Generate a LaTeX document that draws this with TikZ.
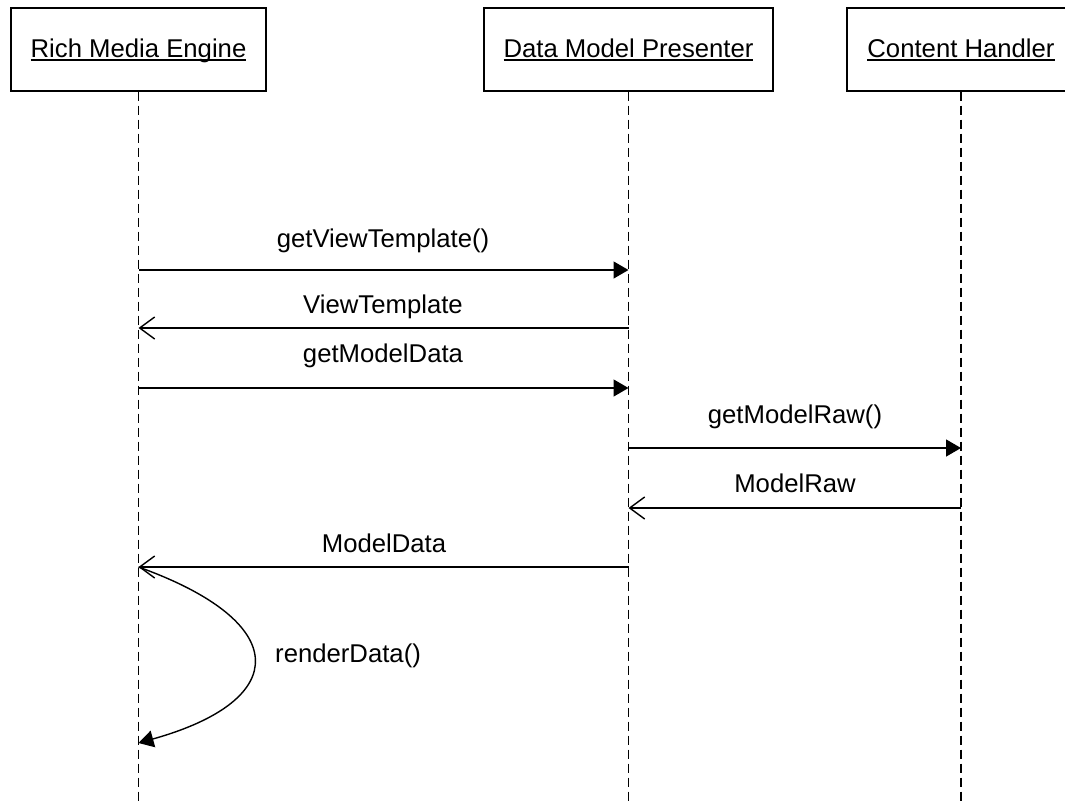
\documentclass[tikz,border=0pt]{standalone}
\usepackage{fontspec}
\setmainfont{Liberation Sans}
\usetikzlibrary{arrows.meta}
% underline at a fixed distance below the baseline, regardless of descenders
\newcommand\ulhdr[1]{\setbox0\hbox{#1}\rlap{\vrule height -2.4pt depth 3.8pt width \wd0}\box0}
\begin{document}
\begin{tikzpicture}[x=1pt,y=-1pt,
  every node/.style={font=\fontsize{25.7}{30}\selectfont},
  actor/.style={draw, line width=1.4pt, minimum height=83pt,
    text height=19pt, text depth=4pt, inner sep=0pt},
  lifeline/.style={line width=1.4pt, dash pattern=on 9pt off 5pt},
  call/.style={line width=1.4pt, -{Triangle[length=15pt,width=17pt]}},
  reply/.style={line width=1.4pt, -{Straight Barb[length=15pt,width=22pt]}},
  msg/.style={anchor=base, inner sep=0pt}]
\useasboundingbox (0,0) rectangle (1065,803);
\clip (0,0) rectangle (1065,803);

% participants
\node[actor, minimum width=255pt] (rme) at (138.5,49.5) {\ulhdr{Rich Media Engine}};
\node[actor, minimum width=289pt] (dmp) at (628.5,49.5) {\ulhdr{Data Model Presenter}};
\node[actor, minimum width=228pt] (ch)  at (961,49.5)   {\ulhdr{Content Handler}};

% lifelines
\coordinate (rmeEnd) at (138.5,803);
\coordinate (dmpEnd) at (628.5,803);
\coordinate (chEnd)  at (961,803);
\draw[lifeline] (rme) -- (rmeEnd);
\draw[lifeline] (dmp) -- (dmpEnd);
\draw[lifeline] (ch)  -- (chEnd);

% message end points on the lifelines
\coordinate (a1) at (138.5,270);  \coordinate (b1) at (628.5,270);
\coordinate (a2) at (138.5,328);  \coordinate (b2) at (628.5,328);
\coordinate (a3) at (138.5,388);  \coordinate (b3) at (628.5,388);
\coordinate (b4) at (628.5,448);  \coordinate (c4) at (961,448);
\coordinate (b5) at (628.5,508);  \coordinate (c5) at (961,508);
\coordinate (a6) at (138.5,567);  \coordinate (b6) at (628.5,567);
\coordinate (a7) at (138.5,743);

% messages
\draw[call]  (a1) -- (b1);
\draw[reply] (b2) -- (a2);
\draw[call]  (a3) -- (b3);
\draw[call]  (b4) -- (c4);
\draw[reply] (c5) -- (b5);
\draw[reply] (b6) -- (a6);
\draw[call]  (a6) .. controls (292,622) and (292,700) .. (a7);

% message labels
\node[msg] (l1) at (383,247) {getViewTemplate()};
\node[msg] (l2) at (383,313) {ViewTemplate};
\node[msg] (l3) at (383,362) {getModelData};
\node[msg] (l4) at (795,423) {getModelRaw()};
\node[msg] (l5) at (795,492) {ModelRaw};
\node[msg] (l6) at (384,552) {ModelData};
\node[msg, anchor=base west] (l7) at (275,662) {renderData()};
\end{tikzpicture}
\end{document}
